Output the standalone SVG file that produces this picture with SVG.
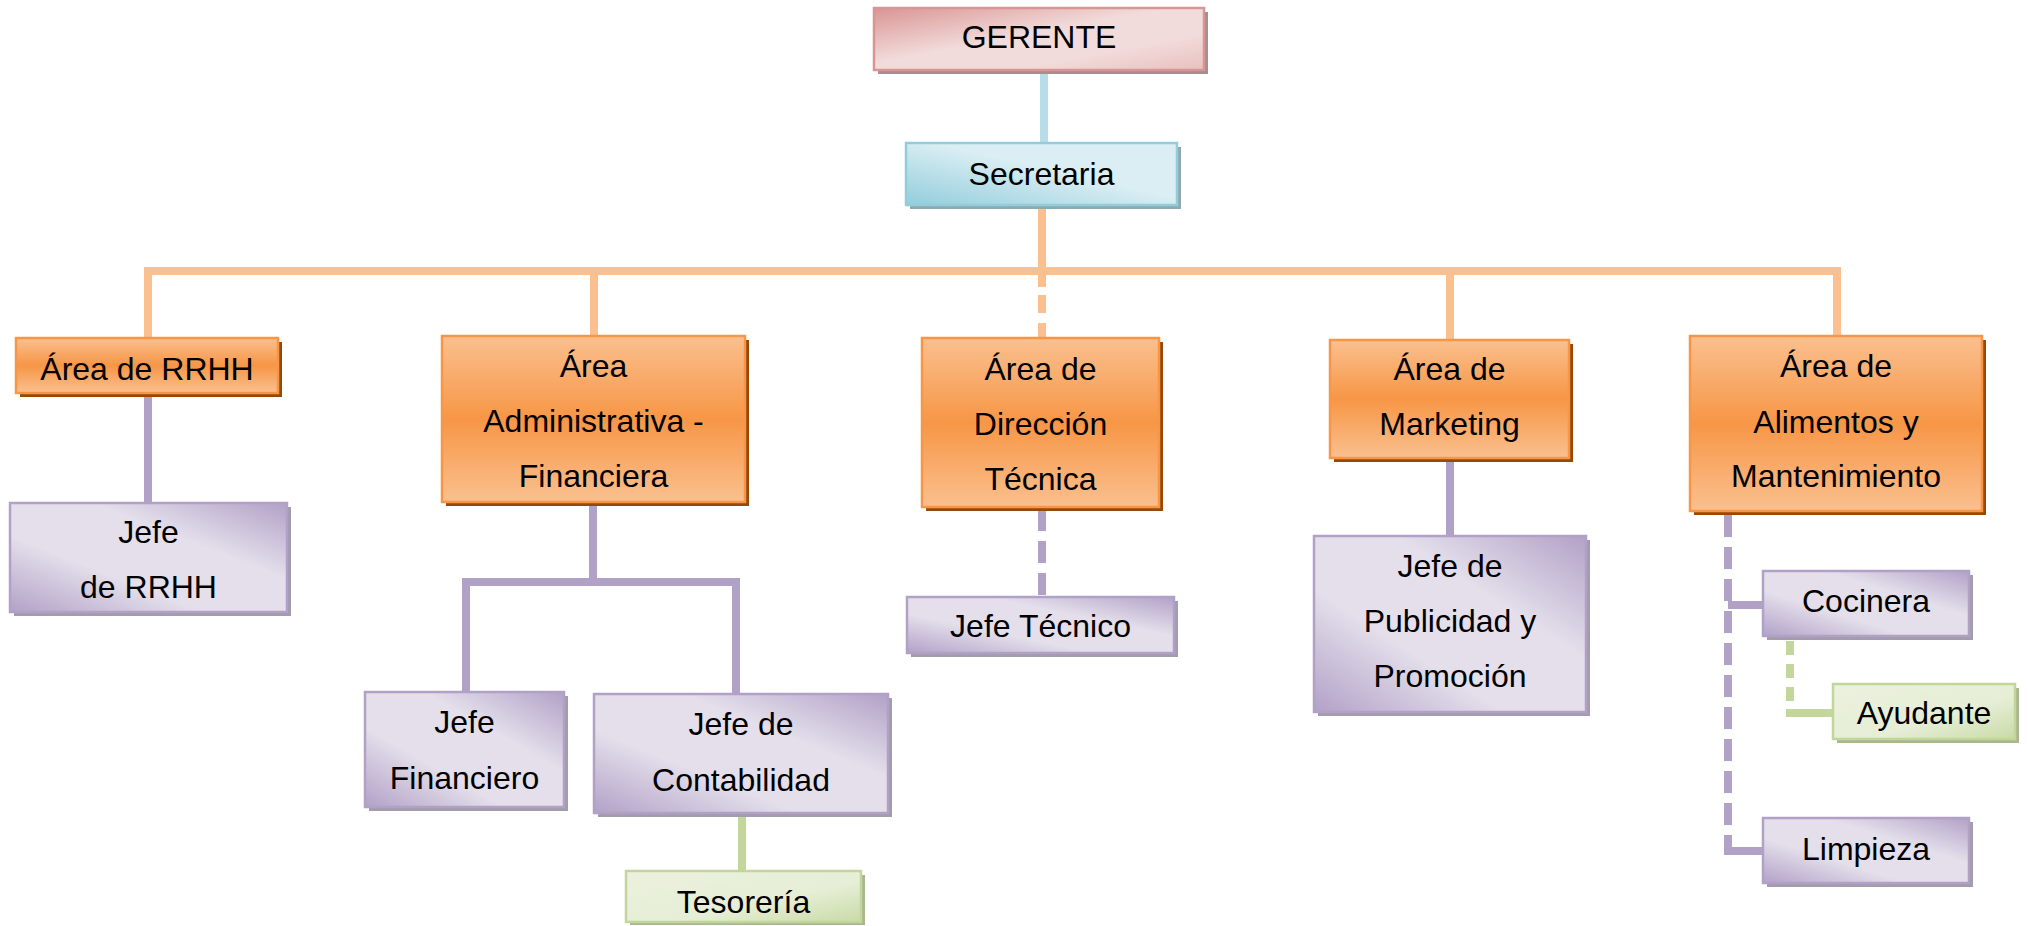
<svg xmlns="http://www.w3.org/2000/svg" width="2029" height="926" viewBox="0 0 2029 926">
<defs>
<linearGradient id="gOr" x1="0" y1="0" x2="0" y2="1">
<stop offset="0" stop-color="#fac08f"/><stop offset="0.5" stop-color="#f79646"/><stop offset="1" stop-color="#fac08f"/>
</linearGradient>
<linearGradient id="gPu" x1="1" y1="0" x2="0" y2="1">
<stop offset="0" stop-color="#b2a1c7"/><stop offset="0.35" stop-color="#e4dfeb"/><stop offset="0.65" stop-color="#e4dfeb"/><stop offset="1" stop-color="#b2a1c7"/>
</linearGradient>
<linearGradient id="gRe" x1="0" y1="0" x2="1" y2="1">
<stop offset="0" stop-color="#d99594"/><stop offset="0.45" stop-color="#f2dcdb"/><stop offset="0.7" stop-color="#f2dcdb"/><stop offset="1" stop-color="#e8c0bf"/>
</linearGradient>
<linearGradient id="gBl" x1="0" y1="1" x2="1" y2="0">
<stop offset="0" stop-color="#92cddc"/><stop offset="0.55" stop-color="#daeef3"/><stop offset="1" stop-color="#daeef3"/>
</linearGradient>
<linearGradient id="gGr" x1="0" y1="0" x2="1" y2="1">
<stop offset="0" stop-color="#ebf1de"/><stop offset="0.6" stop-color="#e6eed6"/><stop offset="1" stop-color="#c9dba6"/>
</linearGradient>
</defs>
<style>
text{font-family:"Liberation Sans",Arial,sans-serif;font-size:32px;fill:#000;text-anchor:middle}
.ln{fill:none;stroke-width:8;stroke-linejoin:miter;stroke-linecap:butt}
.or{stroke:#fac090}.pu{stroke:#b2a1c7}.bl{stroke:#b7dde8}.gr{stroke:#c3d69b}
.dpu{stroke-dasharray:22 10}.dgr{stroke-dasharray:14 9}
.bOr{fill:url(#gOr);stroke:#f79646;stroke-width:2.5}.sOr{fill:#984807}
.bPu{fill:url(#gPu);stroke:#b2a1c7;stroke-width:2.5}.sPu{fill:#a39cab}
.bRe{fill:url(#gRe);stroke:#d99594;stroke-width:2.5}.sRe{fill:#a88e8f}
.bBl{fill:url(#gBl);stroke:#92cddc;stroke-width:2.5}.sBl{fill:#8fa9b0}
.bGr{fill:url(#gGr);stroke:#c2d69b;stroke-width:2.5}.sGr{fill:#a9b78f}
</style>
<g id="connectors">
<path class="ln bl" d="M1044 70 V143"/>
<path class="ln or" d="M1042 205 V271"/>
<path class="ln or" d="M148 338 V271 H1837 V336"/>
<path class="ln or" d="M594 271 V336"/>
<path class="ln or" d="M1450 271 V340"/>
<path class="ln or" d="M1042 271 V287 M1042 295 V313 M1042 323 V338"/>
<path class="ln pu" d="M148 393 V503"/>
<path class="ln pu" d="M593 502 V582"/>
<path class="ln pu" d="M466 692 V582 H736 V694"/>
<path class="ln pu" d="M1450 458 V536"/>
<path class="ln pu dpu" d="M1042 509 V597"/>
<path class="ln pu dpu" d="M1728 515 V847"/>
<path class="ln pu" d="M1728 847 V851 H1763"/>
<path class="ln pu" d="M1728 605 H1763"/>
<path class="ln gr" d="M742 813 V871"/>
<path class="ln gr dgr" d="M1790 641 V710"/>
<path class="ln gr" d="M1786 713 H1833"/>
</g>
<g id="gerente"><rect class="sRe" x="878" y="12" width="330" height="62"/><rect class="bRe" x="874" y="8" width="330" height="62"/><text x="1039" y="48">GERENTE</text></g>
<g id="secretaria"><rect class="sBl" x="910" y="147" width="271" height="62"/><rect class="bBl" x="906" y="143" width="271" height="62"/><text x="1041.5" y="185">Secretaria</text></g>
<g id="area-rrhh"><rect class="sOr" x="20" y="342" width="262" height="55"/><rect class="bOr" x="16" y="338" width="262" height="55"/><text x="147" y="380">Área de RRHH</text></g>
<g id="area-admin"><rect class="sOr" x="446" y="340" width="303" height="166"/><rect class="bOr" x="442" y="336" width="303" height="166"/><text x="593.5" y="377">Área</text><text x="593.5" y="432">Administrativa -</text><text x="593.5" y="487">Financiera</text></g>
<g id="area-direccion"><rect class="sOr" x="926" y="342" width="237" height="169"/><rect class="bOr" x="922" y="338" width="237" height="169"/><text x="1040.5" y="380">Área de</text><text x="1040.5" y="435">Dirección</text><text x="1040.5" y="490">Técnica</text></g>
<g id="area-marketing"><rect class="sOr" x="1334" y="344" width="239" height="118"/><rect class="bOr" x="1330" y="340" width="239" height="118"/><text x="1449.5" y="380">Área de</text><text x="1449.5" y="435">Marketing</text></g>
<g id="area-alimentos"><rect class="sOr" x="1694" y="340" width="292" height="175"/><rect class="bOr" x="1690" y="336" width="292" height="175"/><text x="1836" y="377">Área de</text><text x="1836" y="433">Alimentos y</text><text x="1836" y="487">Mantenimiento</text></g>
<g id="jefe-rrhh"><rect class="sPu" x="14" y="507" width="277" height="109"/><rect class="bPu" x="10" y="503" width="277" height="109"/><text x="148.5" y="543">Jefe</text><text x="148.5" y="598">de RRHH</text></g>
<g id="jefe-financiero"><rect class="sPu" x="369" y="696" width="199" height="115"/><rect class="bPu" x="365" y="692" width="199" height="115"/><text x="464.5" y="733">Jefe</text><text x="464.5" y="789">Financiero</text></g>
<g id="jefe-contabilidad"><rect class="sPu" x="598" y="698" width="294" height="119"/><rect class="bPu" x="594" y="694" width="294" height="119"/><text x="741" y="735">Jefe de</text><text x="741" y="791">Contabilidad</text></g>
<g id="tesoreria"><rect class="sGr" x="630" y="875" width="235" height="50"/><rect class="bGr" x="626" y="871" width="235" height="51"/><text x="743.5" y="913">Tesorería</text></g>
<g id="jefe-tecnico"><rect class="sPu" x="911" y="601" width="267" height="56"/><rect class="bPu" x="907" y="597" width="267" height="56"/><text x="1040.5" y="637">Jefe Técnico</text></g>
<g id="jefe-publicidad"><rect class="sPu" x="1318" y="540" width="272" height="176"/><rect class="bPu" x="1314" y="536" width="272" height="176"/><text x="1450" y="577">Jefe de</text><text x="1450" y="632">Publicidad y</text><text x="1450" y="687">Promoción</text></g>
<g id="cocinera"><rect class="sPu" x="1767" y="575" width="206" height="65"/><rect class="bPu" x="1763" y="571" width="206" height="65"/><text x="1866" y="612">Cocinera</text></g>
<g id="ayudante"><rect class="sGr" x="1837" y="688" width="182" height="55"/><rect class="bGr" x="1833" y="684" width="182" height="55"/><text x="1924" y="724">Ayudante</text></g>
<g id="limpieza"><rect class="sPu" x="1767" y="822" width="206" height="65"/><rect class="bPu" x="1763" y="818" width="206" height="65"/><text x="1866" y="860">Limpieza</text></g>
</svg>
